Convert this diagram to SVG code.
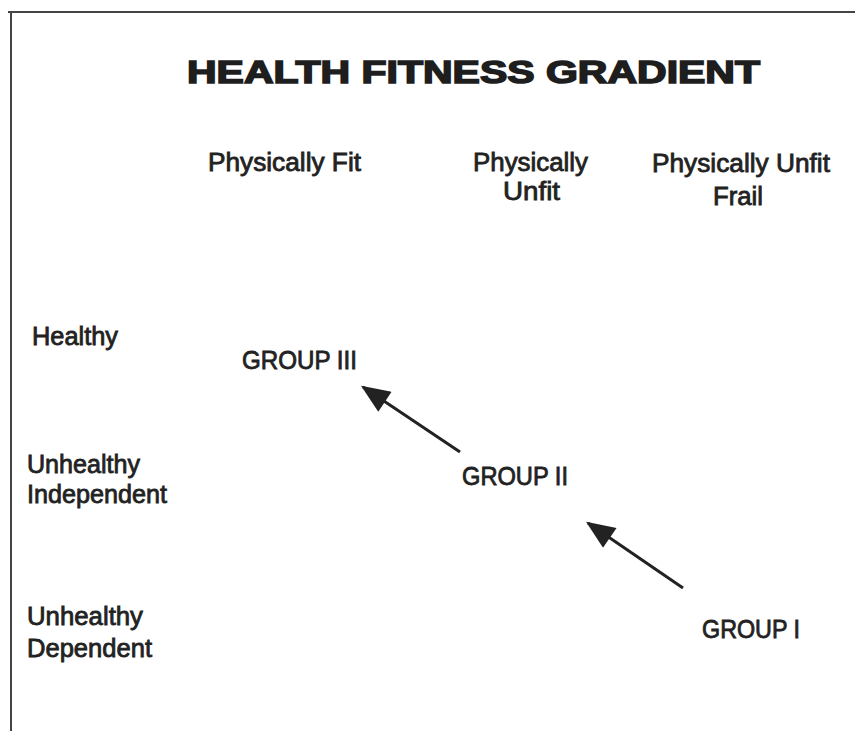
<svg xmlns="http://www.w3.org/2000/svg" width="855" height="731" viewBox="0 0 855 731">
<defs>
<style>
.t{font-family:"Liberation Sans",Arial,sans-serif;font-size:25px;fill:#222;stroke:#222;stroke-width:0.8}
.title{font-family:"Liberation Sans",Arial,sans-serif;font-size:32px;font-weight:bold;fill:#1e1e1e;stroke:#1e1e1e;stroke-width:1.6}
.frame{stroke:#444;stroke-width:2;fill:none}
.arrow{stroke:#222;stroke-width:3;fill:none;marker-end:url(#ah)}
</style>
<marker id="ah" viewBox="0 0 12 10" refX="11" refY="5" markerWidth="10" markerHeight="8" orient="auto" markerUnits="strokeWidth">
<path d="M0,0 L12,5 L0,10 Z" fill="#222"/>
</marker>
</defs>
<rect width="855" height="731" fill="#fff"/>
<path class="frame" d="M8,12 H855 M11,12 V731"/>
<g id="title"><text class="title" x="187" y="83" textLength="573" lengthAdjust="spacingAndGlyphs">HEALTH FITNESS GRADIENT</text></g>
<g id="col-fit"><text class="t" x="208" y="171" textLength="153" lengthAdjust="spacingAndGlyphs">Physically Fit</text></g>
<g id="col-unfit"><text class="t" x="473" y="171" textLength="115" lengthAdjust="spacingAndGlyphs">Physically</text><text class="t" x="503" y="200" textLength="57" lengthAdjust="spacingAndGlyphs">Unfit</text></g>
<g id="col-frail"><text class="t" x="652" y="172" textLength="178" lengthAdjust="spacingAndGlyphs">Physically Unfit</text><text class="t" x="713" y="205" textLength="50" lengthAdjust="spacingAndGlyphs">Frail</text></g>
<g id="row-healthy"><text class="t" x="32" y="345" textLength="86" lengthAdjust="spacingAndGlyphs">Healthy</text></g>
<g id="row-independent"><text class="t" x="27" y="473" textLength="113" lengthAdjust="spacingAndGlyphs">Unhealthy</text><text class="t" x="27" y="503" textLength="140" lengthAdjust="spacingAndGlyphs">Independent</text></g>
<g id="row-dependent"><text class="t" x="27" y="625" textLength="116" lengthAdjust="spacingAndGlyphs">Unhealthy</text><text class="t" x="27" y="657" textLength="125" lengthAdjust="spacingAndGlyphs">Dependent</text></g>
<g id="group3"><text class="t" x="242" y="369" textLength="115" lengthAdjust="spacingAndGlyphs">GROUP III</text></g>
<g id="group2"><text class="t" x="462" y="485" textLength="106" lengthAdjust="spacingAndGlyphs">GROUP II</text></g>
<g id="group1"><text class="t" x="702" y="638" textLength="98" lengthAdjust="spacingAndGlyphs">GROUP I</text></g>
<g id="connectors">
<line class="arrow" x1="460" y1="452" x2="363" y2="387"/>
<line class="arrow" x1="683" y1="588" x2="588" y2="523"/>
</g>
</svg>
